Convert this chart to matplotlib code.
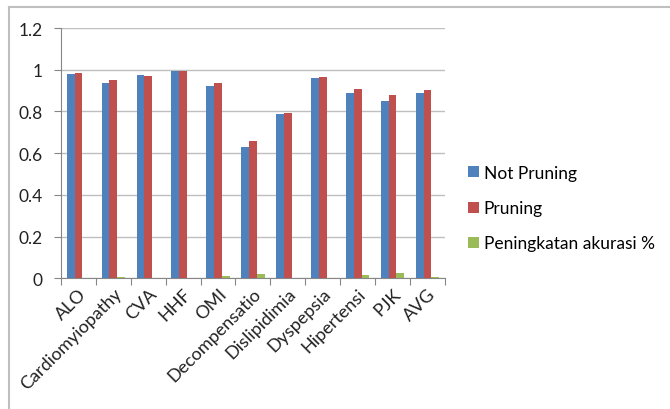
import numpy as np
import matplotlib
matplotlib.use("Agg")
import matplotlib.pyplot as plt
from matplotlib.lines import Line2D

# Datos
categorias = ["ALO", "Cardiomyiopathy", "CVA", "HHF", "OMI", "Decompensatio",
              "Dislipidimia", "Dyspepsia", "Hipertensi", "PJK", "AVG"]
not_pruning = [0.979, 0.939, 0.973, 0.992, 0.920, 0.628, 0.788, 0.962, 0.890, 0.848, 0.890]
pruning = [0.984, 0.950, 0.968, 0.992, 0.935, 0.658, 0.794, 0.965, 0.909, 0.879, 0.903]
peningkatan = [0.0, 0.008, 0.0, 0.0, 0.011, 0.021, 0.0, 0.0, 0.016, 0.026, 0.008]
y_ticks = [0, 0.2, 0.4, 0.6, 0.8, 1, 1.2]

plt.rcParams["font.family"] = ["Lato", "DejaVu Sans"]

fig = plt.figure(figsize=(6.7, 4.1), dpi=100)
ax = fig.add_axes([0.091, 0.319, 0.573, 0.610])

x = np.arange(len(categorias))
w = 1 / 4.5
ax.bar(x - w, not_pruning, w, color="#4F81BD", label="Not Pruning", zorder=3)
ax.bar(x, pruning, w, color="#C0504D", label="Pruning", zorder=3)
ax.bar(x + w, peningkatan, w, color="#9BBB59", label="Peningkatan akurasi %", zorder=3)

ax.set_xlim(-0.5, len(categorias) - 0.5)
ax.set_ylim(0, 1.2)
ax.set_yticks(y_ticks)
ax.set_yticklabels(["0", "0.2", "0.4", "0.6", "0.8", "1", "1.2"], fontsize=12.5, color="#222222")
ax.yaxis.grid(True, color="#BFBFBF", linewidth=1, zorder=0)

# marcas del eje x entre categorías
ax.set_xticks(np.arange(len(categorias) + 1) - 0.5, minor=False)
ax.set_xticklabels([])
ax.set_xticks(x, minor=True)
ax.set_xticklabels(categorias, minor=True, rotation=45, ha="right",
                   rotation_mode="anchor", fontsize=13, color="#222222")
ax.tick_params(axis="x", which="minor", length=0, pad=5)
ax.tick_params(axis="x", which="major", length=5, color="#868686")
ax.tick_params(axis="y", length=5, color="#868686", pad=8)

for s in ["top", "right"]:
    ax.spines[s].set_visible(False)
for s in ["left", "bottom"]:
    ax.spines[s].set_color("#868686")

ax.legend(loc="center left", bbox_to_anchor=(1.02, 0.28), frameon=False,
          fontsize=12.5, handlelength=0.6, handleheight=0.6, handletextpad=0.3,
          labelspacing=1.1)

# borde exterior del gráfico
fig.add_artist(Line2D([9 / 670, 9 / 670], [0, 1 - 8 / 410], color="#BFBFBF", lw=1.5))
fig.add_artist(Line2D([9 / 670, 1], [1 - 8 / 410, 1 - 8 / 410], color="#BFBFBF", lw=1.5))

fig.savefig("out.png", dpi=100)
